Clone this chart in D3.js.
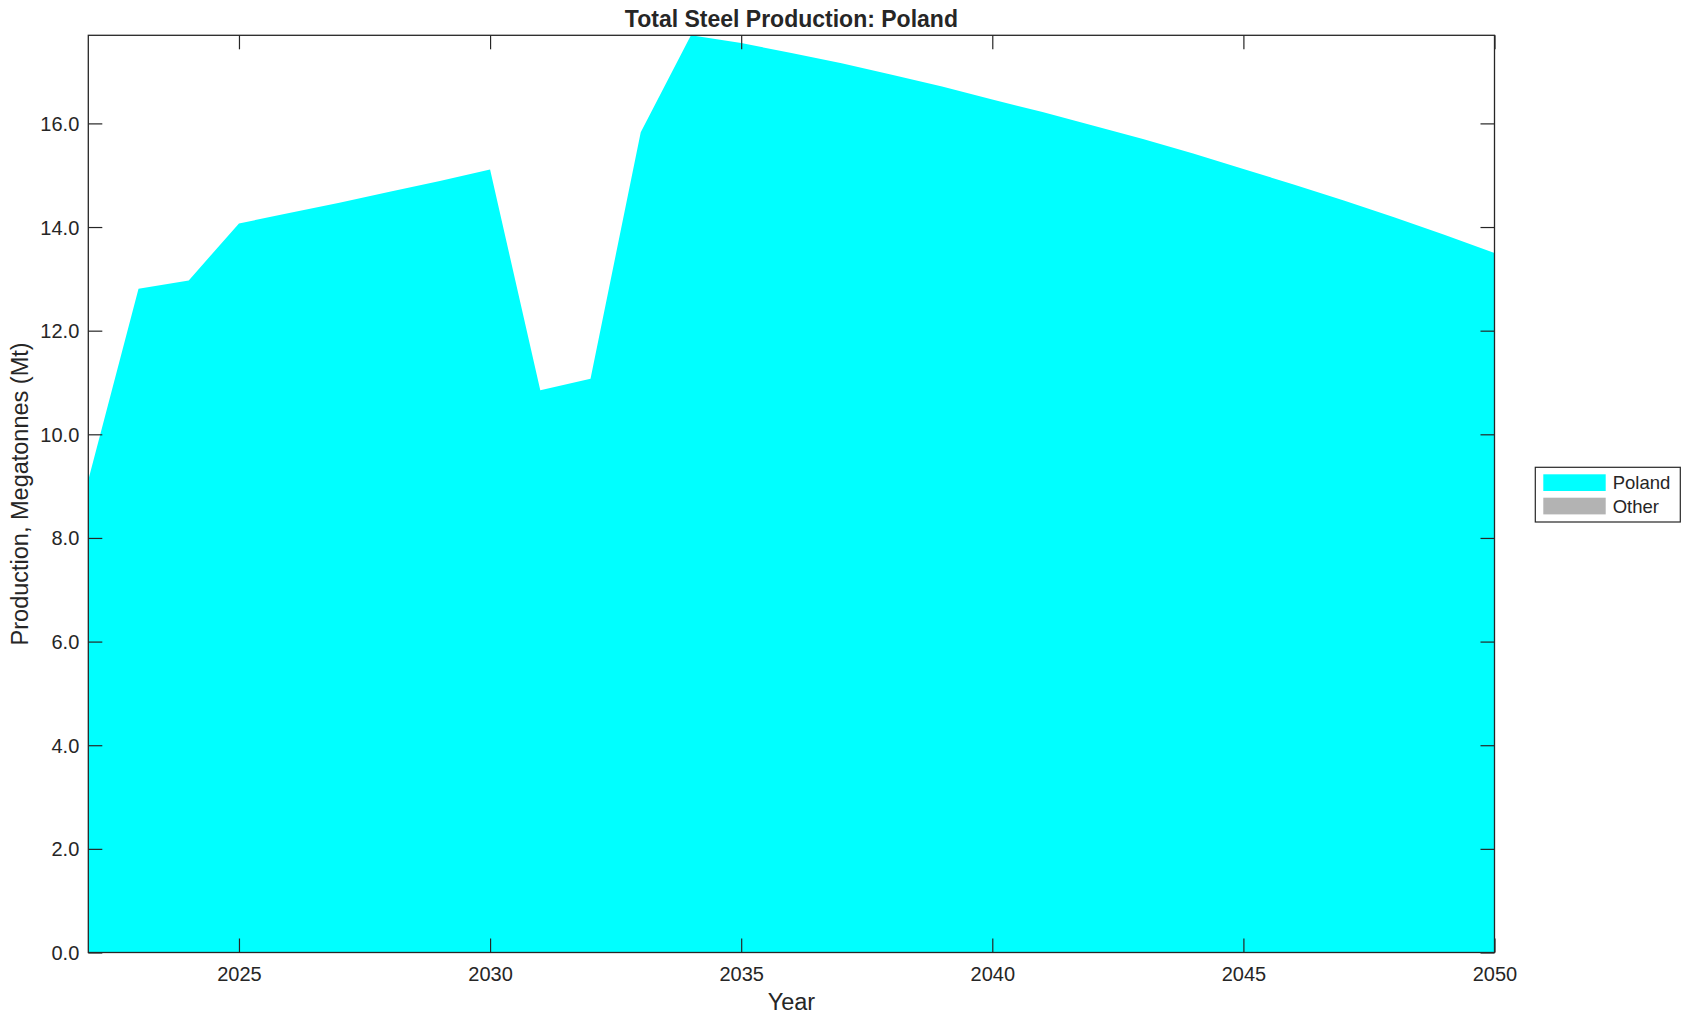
<!DOCTYPE html>
<html>
<head>
<meta charset="utf-8">
<script src="https://cdn.jsdelivr.net/npm/d3@7"></script>
<style>
  html, body { margin: 0; padding: 0; background: #ffffff; }
  svg { display: block; }
  text { font-family: "Liberation Sans", Arial, Helvetica, sans-serif; fill: #262626; }
</style>
</head>
<body>
<svg id="chart" width="1691" height="1021"></svg>
<script>
// ---- Data ----
const years = [2022, 2023, 2024, 2025, 2026, 2027, 2028, 2029, 2030, 2031, 2032, 2033, 2034, 2035,
               2036, 2037, 2038, 2039, 2040, 2041, 2042, 2043, 2044, 2045, 2046, 2047, 2048, 2049, 2050];
const polandValues = [9.12, 12.81, 12.97, 14.07, 14.27, 14.47, 14.68, 14.89, 15.11, 10.85, 11.07, 15.83, 17.70, 17.55,
                      17.36, 17.16, 16.94, 16.71, 16.46, 16.22, 15.96, 15.70, 15.42, 15.12, 14.82, 14.51, 14.19, 13.85, 13.50];
const otherValues = [0, 0, 0, 0, 0, 0, 0, 0, 0, 0, 0, 0, 0, 0,
                     0, 0, 0, 0, 0, 0, 0, 0, 0, 0, 0, 0, 0, 0, 0];
const seriesNames = ["Poland", "Other"];
const seriesColors = ["#00ffff", "#b3b3b3"];
const xTickValues = [2025, 2030, 2035, 2040, 2045, 2050];
const yTickValues = [0, 2, 4, 6, 8, 10, 12, 14, 16];
const titleText = "Total Steel Production: Poland";
const xLabelText = "Year";
const yLabelText = "Production, Megatonnes (Mt)";

// ---- Layout ----
const svg = d3.select("#chart");
const plot = { left: 88.3, right: 1494.5, top: 35.3, bottom: 952.5 };
const axisColor = "#262626";
const tickLen = 14;

const rows = years.map((y, i) => ({ year: y, Poland: polandValues[i], Other: otherValues[i] }));
const stacked = d3.stack().keys(seriesNames)(rows);
const yMax = d3.max(stacked[stacked.length - 1], d => d[1]);

const x = d3.scaleLinear().domain([d3.min(years), d3.max(years)]).range([plot.left, plot.right]);
const y = d3.scaleLinear().domain([0, yMax]).range([plot.bottom, plot.top]);

// areas
const area = d3.area()
  .x(d => x(d.data.year))
  .y0(d => y(d[0]))
  .y1(d => y(d[1]));

svg.append("g").selectAll("path")
  .data(stacked)
  .join("path")
  .attr("d", area)
  .attr("fill", (d, i) => seriesColors[i])
  .attr("stroke", "none");

// axes (ticks inside, box)
const fmt = d3.format(".1f");
const gx = svg.append("g").attr("transform", `translate(0,${plot.bottom})`)
  .call(d3.axisBottom(x).tickValues(xTickValues).tickFormat(d3.format("d")).tickSize(-tickLen).tickPadding(0));
gx.selectAll("text").attr("y", 21).attr("dy", "0.35em").style("font-size", "20px");

const gxTop = svg.append("g").attr("transform", `translate(0,${plot.top})`)
  .call(d3.axisTop(x).tickValues(xTickValues).tickFormat("").tickSize(-tickLen));

const gy = svg.append("g").attr("transform", `translate(${plot.left},0)`)
  .call(d3.axisLeft(y).tickValues(yTickValues).tickFormat(fmt).tickSize(-tickLen).tickPadding(0));
gy.selectAll("text").attr("x", -9).attr("dy", "0.35em").style("font-size", "20px");

const gyRight = svg.append("g").attr("transform", `translate(${plot.right},0)`)
  .call(d3.axisRight(y).tickValues(yTickValues).tickFormat("").tickSize(-tickLen));

[gx, gxTop, gy, gyRight].forEach(g => {
  g.select(".domain").remove();
  g.selectAll("line").attr("stroke", axisColor).attr("stroke-width", 1.2);
  g.selectAll("text").attr("fill", axisColor).style("font-family", "'Liberation Sans', Arial, Helvetica, sans-serif");
});

svg.append("rect")
  .attr("x", plot.left).attr("y", plot.top)
  .attr("width", plot.right - plot.left).attr("height", plot.bottom - plot.top)
  .attr("fill", "none").attr("stroke", axisColor).attr("stroke-width", 1.3);

// title
svg.append("text")
  .attr("x", (plot.left + plot.right) / 2).attr("y", 26.5)
  .attr("text-anchor", "middle")
  .style("font-size", "23px").style("font-weight", "bold")
  .attr("fill", "#000000")
  .text(titleText);

// axis labels
svg.append("text")
  .attr("x", (plot.left + plot.right) / 2).attr("y", 1002)
  .attr("dy", "0.35em")
  .attr("text-anchor", "middle")
  .style("font-size", "23.5px")
  .text(xLabelText);

svg.append("text")
  .attr("transform", `translate(20,${(plot.top + plot.bottom) / 2}) rotate(-90)`)
  .attr("dy", "0.35em")
  .attr("text-anchor", "middle")
  .style("font-size", "23.5px")
  .text(yLabelText);

// legend
const legend = svg.append("g");
legend.append("rect")
  .attr("x", 1535.3).attr("y", 467.3).attr("width", 145).attr("height", 54.7)
  .attr("fill", "#ffffff").attr("stroke", axisColor).attr("stroke-width", 1.2);
seriesNames.forEach((name, i) => {
  const sy = 474.3 + i * 23.4;
  legend.append("rect")
    .attr("x", 1543.3).attr("y", sy).attr("width", 62.4).attr("height", 16.7)
    .attr("fill", seriesColors[i]);
  legend.append("text")
    .attr("x", 1612.7).attr("y", sy + 8.5).attr("dy", "0.35em")
    .style("font-size", "18.5px").attr("fill", "#000000")
    .text(name);
});
</script>
</body>
</html>
